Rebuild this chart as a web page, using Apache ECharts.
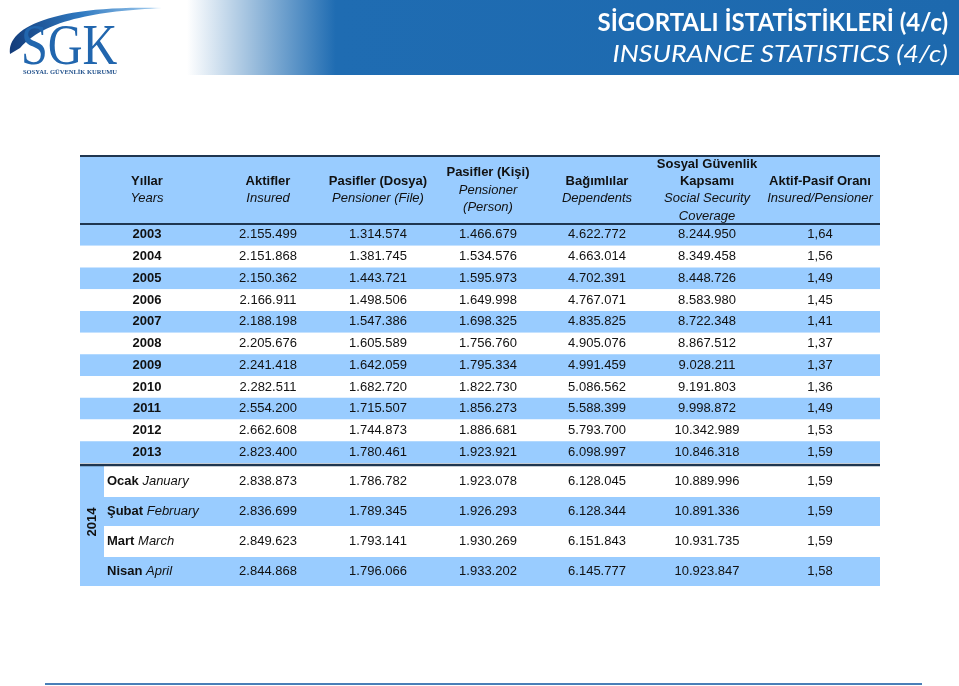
<!DOCTYPE html>
<html>
<head>
<meta charset="utf-8">
<title>Sigortalı İstatistikleri (4/c)</title>
<script src="https://cdn.jsdelivr.net/npm/echarts@6/dist/echarts.min.js"></script>
<style>
  html, body { margin: 0; padding: 0; background: #fff; }
  #main { width: 959px; height: 686px; }
</style>
</head>
<body>
<div id="main"></div>
<script>
// satır etiketleri
const years = ['2003', '2004', '2005', '2006', '2007', '2008', '2009', '2010', '2011', '2012', '2013']
const monthTr = ['Ocak', 'Şubat', 'Mart', 'Nisan']
const monthEn = ['January', 'February', 'March', 'April']
const monthYear = '2014'

// ilk 11 değer yıllar, son 4 değer 2014 ayları
const insured = [2155499, 2151868, 2150362, 2166911, 2188198, 2205676, 2241418, 2282511, 2554200, 2662608, 2823400,
  2838873, 2836699, 2849623, 2844868]
const pensionerFile = [1314574, 1381745, 1443721, 1498506, 1547386, 1605589, 1642059, 1682720, 1715507, 1744873, 1780461,
  1786782, 1789345, 1793141, 1796066]
const pensionerPerson = [1466679, 1534576, 1595973, 1649998, 1698325, 1756760, 1795334, 1822730, 1856273, 1886681, 1923921,
  1923078, 1926293, 1930269, 1933202]
const dependents = [4622772, 4663014, 4702391, 4767071, 4835825, 4905076, 4991459, 5086562, 5588399, 5793700, 6098997,
  6128045, 6128344, 6151843, 6145777]
const coverage = [8244950, 8349458, 8448726, 8583980, 8722348, 8867512, 9028211, 9191803, 9998872, 10342989, 10846318,
  10889996, 10891336, 10931735, 10923847]
const ratio = [1.64, 1.56, 1.49, 1.45, 1.41, 1.37, 1.37, 1.36, 1.49, 1.53, 1.59,
  1.59, 1.59, 1.59, 1.58]

// başlık hücreleri (kalın türkçe + italik ingilizce satırlar)
const headTr = [['Yıllar'], ['Aktifler'], ['Pasifler (Dosya)'], ['Pasifler (Kişi)'], ['Bağımlılar'], ['Sosyal Güvenlik', 'Kapsamı'], ['Aktif-Pasif Oranı']]
const headEn = [['Years'], ['Insured'], ['Pensioner (File)'], ['Pensioner', '(Person)'], ['Dependents'], ['Social Security', 'Coverage'], ['Insured/Pensioner']]

// düzen
const tableLeft = 80
const tableWidth = 800
const colX = [67, 188, 298, 408, 517, 627, 740] // sütun ortaları (tablo solundan)
const yearColW = 24
const blue = '#99ccff'
const lineColor = '#1f3650'
const font = '"Liberation Sans", Arial, sans-serif'

const fmtInt = n => String(n).replace(/\B(?=(\d{3})+(?!\d))/g, '.')
const fmtRatio = v => v.toFixed(2).replace('.', ',')

function rowTexts(i) {
  return [fmtInt(insured[i]), fmtInt(pensionerFile[i]), fmtInt(pensionerPerson[i]),
    fmtInt(dependents[i]), fmtInt(coverage[i]), fmtRatio(ratio[i])]
}

function cellText(x, y, text, bold) {
  return {
    type: 'text',
    style: {
      text: text, x: x, y: y, align: 'center', verticalAlign: 'middle',
      fontFamily: font, fontSize: 13, fontWeight: bold ? 'bold' : 'normal', fill: '#111'
    }
  }
}

function renderYearRow(params, api) {
  const idx = api.value(0)
  const p = api.coord([0, idx])
  const h = api.size([0, 1])[1]
  const w = api.size([tableWidth, 0])[0]
  const children = [{
    type: 'rect',
    shape: { x: p[0], y: p[1] - h / 2, width: w, height: h },
    style: { fill: idx % 2 === 0 ? blue : '#fff' }
  }]
  children.push(cellText(api.coord([colX[0], idx])[0], p[1], years[idx], true))
  rowTexts(idx).forEach((t, k) => {
    children.push(cellText(api.coord([colX[k + 1], idx])[0], p[1], t, false))
  })
  return { type: 'group', children: children }
}

function renderMonthRow(params, api) {
  const idx = api.value(0)
  const p = api.coord([yearColW, idx])
  const h = api.size([0, 1])[1]
  const w = api.size([tableWidth - yearColW, 0])[0]
  const children = [{
    type: 'rect',
    shape: { x: p[0], y: p[1] - h / 2 + 1, width: w, height: h - 1 },
    style: { fill: idx % 2 === 1 ? blue : '#fff' }
  }, {
    type: 'text',
    style: {
      text: '{b|' + monthTr[idx] + '} {i|' + monthEn[idx] + '}',
      x: p[0] + 3, y: p[1], align: 'left', verticalAlign: 'middle',
      fontFamily: font, fontSize: 13, fill: '#111',
      rich: {
        b: { fontFamily: font, fontSize: 13, fontWeight: 'bold', fill: '#111' },
        i: { fontFamily: font, fontSize: 13, fontStyle: 'italic', fill: '#111' }
      }
    }
  }]
  rowTexts(years.length + idx).forEach((t, k) => {
    children.push(cellText(api.coord([colX[k + 1], idx])[0], p[1], t, false))
  })
  return { type: 'group', children: children }
}

// 2014 dikey hücresi
function renderYearCell(params, api) {
  const h = api.size([0, 1])[1]
  const top = api.coord([0, 0])[1] - h / 2
  const bottom = api.coord([0, monthTr.length - 1])[1] + h / 2
  const x0 = api.coord([0, 0])[0]
  const w = api.size([yearColW, 0])[0]
  return {
    type: 'group',
    children: [{
      type: 'rect',
      shape: { x: x0, y: top, width: w, height: bottom - top },
      style: { fill: blue }
    }, {
      type: 'text',
      x: x0 + w / 2, y: (top + bottom) / 2 - 4,
      rotation: Math.PI / 2,
      style: {
        text: monthYear, x: 0, y: 0, align: 'center', verticalAlign: 'middle',
        fontFamily: font, fontSize: 13, fontWeight: 'bold', fill: '#111'
      }
    }]
  }
}

const headerGraphics = headTr.map((tr, k) => {
  const lines = tr.map(s => '{b|' + s + '}').concat(headEn[k].map(s => '{i|' + s + '}'))
  return {
    type: 'text',
    x: tableLeft + colX[k], y: 190,
    style: {
      text: lines.join('\n'), align: 'center', verticalAlign: 'middle',
      fontFamily: font, fontSize: 13, lineHeight: 17.3, fill: '#111',
      rich: {
        b: { fontFamily: font, fontSize: 13, fontWeight: 'bold', lineHeight: 17.3, fill: '#111' },
        i: { fontFamily: font, fontSize: 13, fontStyle: 'italic', lineHeight: 17.3, fill: '#111' }
      }
    },
    z: 10
  }
})

function hLine(y, x1, x2, color, width) {
  return { type: 'line', shape: { x1: x1, y1: y, x2: x2, y2: y }, style: { stroke: color, lineWidth: width }, z: 20 }
}

// logo kavisi: iki bezier eğrisinden çokgen
function bez(p0, p1, p2, p3, n) {
  const pts = []
  for (let i = 0; i <= n; i++) {
    const t = i / n, u = 1 - t
    pts.push([
      u * u * u * p0[0] + 3 * u * u * t * p1[0] + 3 * u * t * t * p2[0] + t * t * t * p3[0],
      u * u * u * p0[1] + 3 * u * u * t * p1[1] + 3 * u * t * t * p2[1] + t * t * t * p3[1]
    ])
  }
  return pts
}
const swoosh = bez([10, 54], [6, 28], [52, 5], [162, 8], 30)
  .concat(bez([162, 8], [104, 11], [46, 18], [20, 48], 30))

const chart = echarts.init(document.getElementById('main'), null, { renderer: 'canvas' })
chart.setOption({
  animation: false,
  backgroundColor: '#fff',
  grid: [
    { left: tableLeft, width: tableWidth, top: 224, height: 239 },
    { left: tableLeft, width: tableWidth, top: 466, height: 120 }
  ],
  xAxis: [
    { type: 'value', gridIndex: 0, min: 0, max: tableWidth, show: false },
    { type: 'value', gridIndex: 1, min: 0, max: tableWidth, show: false }
  ],
  yAxis: [
    { type: 'category', gridIndex: 0, data: years, inverse: true, show: false },
    { type: 'category', gridIndex: 1, data: monthTr, inverse: true, show: false }
  ],
  series: [
    {
      type: 'custom', xAxisIndex: 0, yAxisIndex: 0, clip: false,
      renderItem: renderYearRow,
      data: years.map((y, i) => [i])
    },
    {
      type: 'custom', xAxisIndex: 1, yAxisIndex: 1, clip: false,
      renderItem: renderMonthRow,
      data: monthTr.map((m, i) => [i])
    },
    {
      type: 'custom', xAxisIndex: 1, yAxisIndex: 1, clip: false,
      renderItem: renderYearCell,
      data: [[0]]
    }
  ],
  graphic: [
    // üst bant
    {
      type: 'rect', shape: { x: 0, y: 0, width: 959, height: 75 },
      style: {
        fill: new echarts.graphic.LinearGradient(0, 0, 1, 0, [
          { offset: 0, color: '#ffffff' },
          { offset: 0.195, color: '#ffffff' },
          { offset: 0.35, color: '#1f6cb2' },
          { offset: 1, color: '#1d69ae' }
        ])
      }
    },
    // logo
    {
      type: 'polygon',
      shape: { points: swoosh },
      style: {
        fill: new echarts.graphic.LinearGradient(0, 1, 1, 0, [
          { offset: 0, color: '#123a78' },
          { offset: 0.5, color: '#2f79c0' },
          { offset: 1, color: '#a9d1f2' }
        ])
      }
    },
    {
      type: 'text', x: 21, y: 49, scaleX: 0.86,
      style: {
        text: 'SGK', x: 0, y: 0, verticalAlign: 'middle',
        fontFamily: '"Liberation Serif", "DejaVu Serif", serif', fontSize: 56,
        fill: '#2166ae'
      }
    },
    {
      type: 'text', x: 70, y: 72,
      style: {
        text: 'SOSYAL GÜVENLİK KURUMU', align: 'center', verticalAlign: 'middle',
        fontFamily: '"Liberation Serif", "DejaVu Serif", serif', fontSize: 6.5, fontWeight: 'bold', fill: '#1f4f8a'
      }
    },
    // başlık
    {
      type: 'text', x: 948, y: 23,
      style: {
        text: 'SİGORTALI İSTATİSTİKLERİ (4/c)', align: 'right', verticalAlign: 'middle',
        fontFamily: 'Lato, "Open Sans", sans-serif', fontSize: 24, fontWeight: 'bold', fill: '#fff'
      }
    },
    {
      type: 'text', x: 948, y: 55, scaleX: 1.17,
      style: {
        text: 'INSURANCE STATISTICS (4/c)', x: 0, y: 0, align: 'right', verticalAlign: 'middle',
        fontFamily: 'Lato, sans-serif', fontSize: 23, fontStyle: 'italic', fill: '#fff'
      }
    },
    // tablo başlığı
    { type: 'rect', shape: { x: tableLeft, y: 156, width: tableWidth, height: 68 }, style: { fill: blue } },
    ...headerGraphics,
    hLine(156, tableLeft, tableLeft + tableWidth, lineColor, 2),
    hLine(224, tableLeft, tableLeft + tableWidth, lineColor, 2),
    hLine(465, tableLeft, tableLeft + tableWidth, lineColor, 2.5),
    // alt çizgi
    hLine(684, 45, 922, '#4a7fb8', 2)
  ]
})
</script>
</body>
</html>
